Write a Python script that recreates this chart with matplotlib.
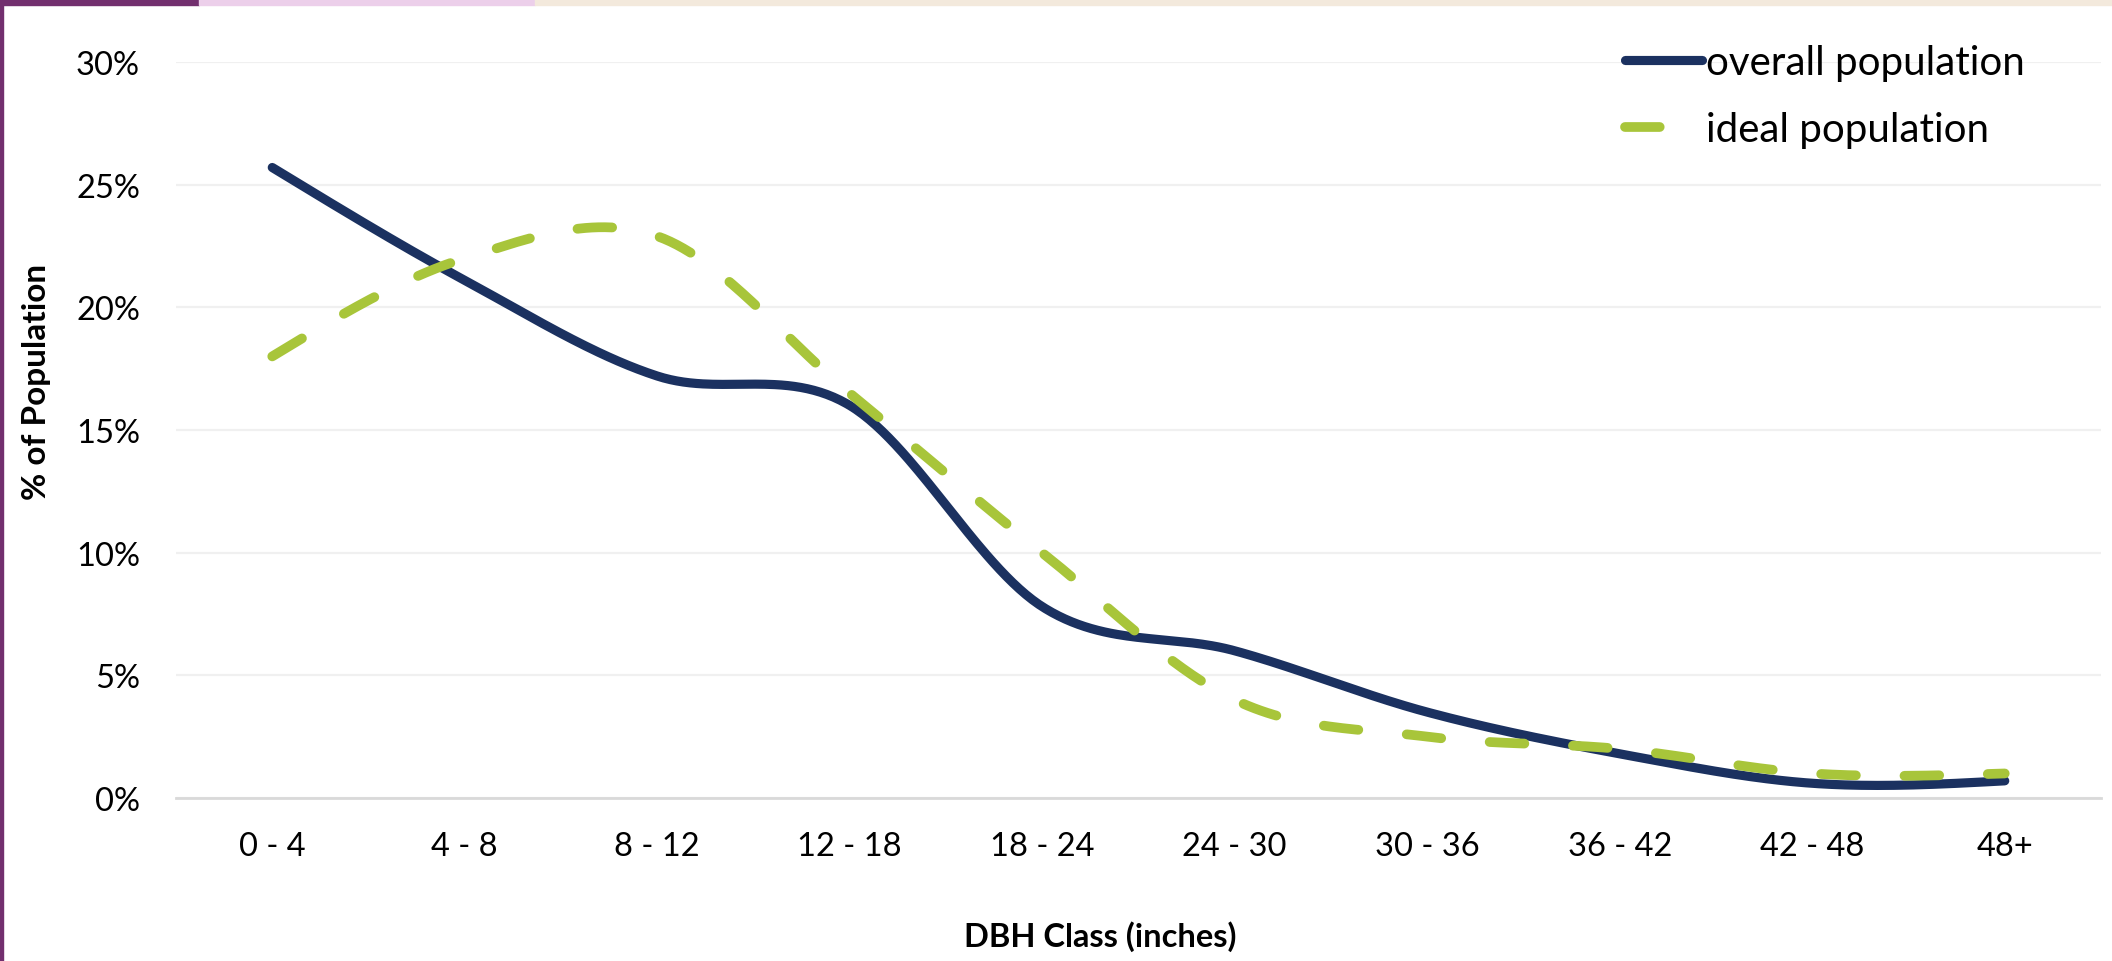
import numpy as np
import matplotlib
matplotlib.use("Agg")
import matplotlib.pyplot as plt
from matplotlib.patches import Rectangle
from matplotlib.ticker import FuncFormatter

# ---- data ----
categories = ["0 - 4", "4 - 8", "8 - 12", "12 - 18", "18 - 24", "24 - 30",
              "30 - 36", "36 - 42", "42 - 48", "48+"]
overall = [25.7, 21.1, 17.2, 16.0, 7.8, 6.0, 3.5, 1.8, 0.6, 0.7]
ideal = [18.0, 22.0, 22.9, 16.5, 10.0, 4.0, 2.5, 2.0, 1.0, 1.0]
yticks = [0, 5, 10, 15, 20, 25, 30]
series_names = ["overall population", "ideal population"]


def smooth(y, n=60):
    """Excel-like smoothed line (cubic Hermite / Catmull-Rom) through points."""
    y = np.asarray(y, float)
    x = np.arange(len(y), dtype=float)
    m = np.empty_like(y)
    m[1:-1] = (y[2:] - y[:-2]) / 2.0
    m[0] = (3 * (y[1] - y[0]) - m[1]) / 2.0
    m[-1] = (3 * (y[-1] - y[-2]) - m[-2]) / 2.0
    xs, ys = [], []
    t = np.linspace(0, 1, n)
    h00 = 2 * t**3 - 3 * t**2 + 1
    h10 = t**3 - 2 * t**2 + t
    h01 = -2 * t**3 + 3 * t**2
    h11 = t**3 - t**2
    for i in range(len(y) - 1):
        seg = h00 * y[i] + h10 * m[i] + h01 * y[i + 1] + h11 * m[i + 1]
        xs.append(x[i] + t if i == 0 else (x[i] + t)[1:])
        ys.append(seg if i == 0 else seg[1:])
    return np.concatenate(xs), np.concatenate(ys)


plt.rcParams['font.family'] = ['Lato', 'DejaVu Sans']
plt.rcParams['lines.scale_dashes'] = False

W, H = 2112, 962
fig = plt.figure(figsize=(W / 100, H / 100), dpi=100)
fig.patch.set_facecolor("white")

# decorative top bar and left border
fig.patches.append(Rectangle((0, 1 - 6 / H), 199 / W, 6 / H, transform=fig.transFigure,
                             color="#722F6E", zorder=0))
fig.patches.append(Rectangle((199 / W, 1 - 6 / H), (535 - 199) / W, 6 / H,
                             transform=fig.transFigure, color="#ECCFEA", zorder=0))
fig.patches.append(Rectangle((535 / W, 1 - 6 / H), (W - 535) / W, 6 / H,
                             transform=fig.transFigure, color="#F3E9DC", zorder=0))
fig.patches.append(Rectangle((0, 0), 2.5 / W, 1, transform=fig.transFigure,
                             color="#722F6E", zorder=0))

left, right, bottom, top = 176, 2101, 799, 63
ax = fig.add_axes([left / W, (H - bottom) / H, (right - left) / W, (bottom - top) / H])

x = np.arange(len(categories))
xo, yo = smooth(overall)
xi, yi = smooth(ideal)

line_o, = ax.plot(xo, yo, color="#1B3160", lw=6.6, solid_capstyle="round",
                  solid_joinstyle="round", label=series_names[0], zorder=3)
line_i, = ax.plot(xi, yi, color="#A8C53A", lw=7.0, dash_capstyle="round",
                  label=series_names[1], zorder=4)
line_i.set_dashes((25, 35))

ax.set_xlim(-0.5, len(categories) - 0.5)
ax.set_ylim(0, 30)
ax.set_xticks(x)
ax.set_xticklabels(categories)
ax.set_yticks(yticks)
ax.yaxis.set_major_formatter(FuncFormatter(lambda v, p: f"{v:.0f}%"))
ax.tick_params(axis="both", length=0, labelsize=23.5, colors="black")
ax.tick_params(axis="x", pad=24)
ax.tick_params(axis="y", pad=26)

ax.grid(axis="y", color="#F0F0F0", lw=1.6)
ax.grid(axis="x", visible=False)
ax.set_axisbelow(True)
for s in ["top", "right", "left"]:
    ax.spines[s].set_visible(False)
ax.spines["bottom"].set_color("#D9D9D9")
ax.spines["bottom"].set_linewidth(2)

fig.text(37 / W, 1 - 382 / H, "% of Population", rotation=90, ha="center",
         va="center", fontsize=24, fontweight="bold")
fig.text(1100 / W, 1 - 937 / H, "DBH Class (inches)", ha="center", va="center",
         fontsize=23.5, fontweight="bold")

leg = ax.legend(loc="upper left", bbox_to_anchor=(1625 / W, 1 - 45 / H),
                bbox_transform=fig.transFigure, frameon=False, fontsize=29,
                handlelength=1.9, handletextpad=0.1, labelspacing=0.75,
                borderpad=0, borderaxespad=0)

fig.savefig("out.png", dpi=100, facecolor="white")
